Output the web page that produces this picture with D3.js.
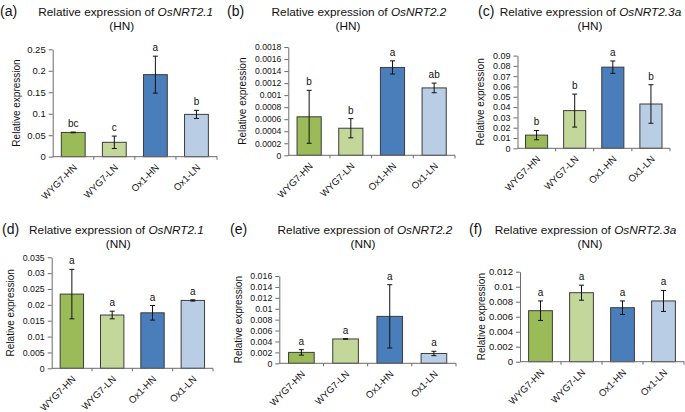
<!DOCTYPE html>
<html>
<head>
<meta charset="utf-8">
<script src="https://cdn.jsdelivr.net/npm/d3@7"></script>
<style>
  html, body { margin: 0; padding: 0; background: #fff; }
  svg { display: block; font-family: "Liberation Sans", Arial, Helvetica, sans-serif; }
</style>
</head>
<body>
<svg id="chart" width="685" height="412"></svg>
<script>
// ---------------- DATA ----------------
const categories = ["WYG7-HN", "WYG7-LN", "Ox1-HN", "Ox1-LN"];
const panelLetters = ["(a)", "(b)", "(c)", "(d)", "(e)", "(f)"];
const genes = ["OsNRT2.1", "OsNRT2.2", "OsNRT2.3a", "OsNRT2.1", "OsNRT2.2", "OsNRT2.3a"];
const conditions = ["(HN)", "(HN)", "(HN)", "(NN)", "(NN)", "(NN)"];
const yAxisTitle = "Relative expression";

const valuesA = [0.0565, 0.0335, 0.191, 0.0985];
const errorsA = [0.0008, 0.0145, 0.043, 0.0095];
const lettersA = ["bc", "c", "a", "b"];
const ticksA = [0, 0.05, 0.1, 0.15, 0.2, 0.25];

const valuesB = [0.00064, 0.00045, 0.00146, 0.00112];
const errorsB = [0.00044, 0.00016, 0.00011, 0.00008];
const lettersB = ["b", "b", "a", "ab"];
const ticksB = [0, 0.0002, 0.0004, 0.0006, 0.0008, 0.001, 0.0012, 0.0014, 0.0016, 0.0018];

const valuesC = [0.0128, 0.0366, 0.0788, 0.043];
const errorsC = [0.0045, 0.016, 0.006, 0.0187];
const lettersC = ["b", "b", "a", "b"];
const ticksC = [0, 0.01, 0.02, 0.03, 0.04, 0.05, 0.06, 0.07, 0.08, 0.09];

const valuesD = [0.0234, 0.0168, 0.0175, 0.0214];
const errorsD = [0.0078, 0.0012, 0.0023, 0.0002];
const lettersD = ["a", "a", "a", "a"];
const ticksD = [0, 0.005, 0.01, 0.015, 0.02, 0.025, 0.03, 0.035];

const valuesE = [0.0020, 0.00446, 0.0086, 0.0018];
const errorsE = [0.0005, 0.00003, 0.0058, 0.0004];
const lettersE = ["a", "a", "a", "a"];
const ticksE = [0, 0.002, 0.004, 0.006, 0.008, 0.01, 0.012, 0.014, 0.016];

const valuesF = [0.0068, 0.0092, 0.0072, 0.0081];
const errorsF = [0.0013, 0.0010, 0.0009, 0.0014];
const lettersF = ["a", "a", "a", "a"];
const ticksF = [0, 0.002, 0.004, 0.006, 0.008, 0.01, 0.012];

const barColors = ["#9bbb59", "#c4d79b", "#4a7ebb", "#b9cde5"];

// ---------------- LAYOUT (pixels) ----------------
const layouts = [
  { x0: 52.7, x1: 217, yTop: 49.3, yBot: 156.7, ylabX: 16,  tickFs: 9.5, letX: 0,   titleCx: 125.7, subCx: 121.7, b1: 16,  b2: 29.5 },
  { x0: 288.3, x1: 455, yTop: 47,  yBot: 155.3, ylabX: 242, tickFs: 8.6, letX: 227, titleCx: 359,   subCx: 348,   b1: 16,  b2: 29.5 },
  { x0: 517.5, x1: 670, yTop: 55.6, yBot: 148.3, ylabX: 480, tickFs: 9,  letX: 478, titleCx: 590.5, subCx: 590,   b1: 16,  b2: 29.5 },
  { x0: 51.7, x1: 213, yTop: 257.3, yBot: 368.3, ylabX: 10,  tickFs: 8.8, letX: 2,   titleCx: 116.5, subCx: 118.3, b1: 233.5, b2: 247.5 },
  { x0: 279.3, x1: 456, yTop: 276, yBot: 363.3, ylabX: 238.5, tickFs: 8.8, letX: 230, titleCx: 365, subCx: 363, b1: 233.5, b2: 247.5 },
  { x0: 520, x1: 684, yTop: 271.7, yBot: 361.7, ylabX: 481, tickFs: 9.6, letX: 469, titleCx: 585.5, subCx: 590, b1: 233.5, b2: 247.5 }
];

const panels = [
  { values: valuesA, errors: errorsA, letters: lettersA, ticks: ticksA },
  { values: valuesB, errors: errorsB, letters: lettersB, ticks: ticksB },
  { values: valuesC, errors: errorsC, letters: lettersC, ticks: ticksC },
  { values: valuesD, errors: errorsD, letters: lettersD, ticks: ticksD },
  { values: valuesE, errors: errorsE, letters: lettersE, ticks: ticksE },
  { values: valuesF, errors: errorsF, letters: lettersF, ticks: ticksF }
];

const fmt = v => String(parseFloat(v.toFixed(6)));
const svg = d3.select("#chart");
const axisColor = "#6b6b6b";

panels.forEach((p, i) => {
  const L = layouts[i];
  const g = svg.append("g");
  const yMax = p.ticks[p.ticks.length - 1];
  const y = d3.scaleLinear().domain([0, yMax]).range([L.yBot, L.yTop]);
  const x = d3.scaleBand().domain(categories).range([L.x0, L.x1])
    .paddingInner(0.42).paddingOuter(0.21);
  const bw = x.bandwidth();
  const step = x.step();

  // titles
  g.append("text").attr("x", L.letX).attr("y", L.b1).attr("font-size", 14).attr("fill", "#111")
    .text(panelLetters[i]);
  const t = g.append("text").attr("x", L.titleCx).attr("y", L.b1).attr("text-anchor", "middle")
    .attr("font-size", 11.8).attr("fill", "#111");
  t.append("tspan").text("Relative expression of ");
  t.append("tspan").attr("font-style", "italic").text(genes[i]);
  g.append("text").attr("x", L.subCx).attr("y", L.b2).attr("text-anchor", "middle")
    .attr("font-size", 11.8).attr("fill", "#111").text(conditions[i]);

  // y axis
  const ya = g.append("g").attr("transform", `translate(${L.x0},0)`)
    .call(d3.axisLeft(y).tickValues(p.ticks).tickFormat(fmt).tickSize(4).tickSizeOuter(0).tickPadding(3));
  ya.select(".domain").attr("stroke", axisColor);
  ya.selectAll(".tick line").attr("stroke", axisColor);
  ya.selectAll(".tick text").attr("font-size", L.tickFs).attr("fill", "#111")
    .attr("font-family", "Liberation Sans, Arial, sans-serif");

  // y axis title
  g.append("text")
    .attr("transform", `translate(${L.ylabX},${(L.yTop + L.yBot) / 2}) rotate(-90)`)
    .attr("text-anchor", "middle").attr("dy", "0.35em")
    .attr("font-size", 10).attr("fill", "#111").text(yAxisTitle);

  // bars
  g.selectAll("rect.bar").data(categories).enter().append("rect")
    .attr("class", "bar")
    .attr("x", c => x(c)).attr("width", bw)
    .attr("y", (c, k) => y(p.values[k]))
    .attr("height", (c, k) => y(0) - y(p.values[k]))
    .attr("fill", (c, k) => barColors[k])
    .attr("stroke", "#3c3c3c").attr("stroke-width", 1);

  // x axis line and boundary ticks
  g.append("line").attr("x1", L.x0).attr("x2", L.x1).attr("y1", L.yBot).attr("y2", L.yBot)
    .attr("stroke", axisColor);
  g.selectAll("line.xt").data(categories).enter().append("line")
    .attr("class", "xt")
    .attr("x1", c => x(c) + bw / 2 + step / 2).attr("x2", c => x(c) + bw / 2 + step / 2)
    .attr("y1", L.yBot).attr("y2", L.yBot + 3).attr("stroke", axisColor);

  // x labels
  g.selectAll("text.xl").data(categories).enter().append("text")
    .attr("class", "xl")
    .attr("transform", c => `translate(${x(c) + bw / 2 + 2},${L.yBot + 9}) rotate(-45)`)
    .attr("text-anchor", "end").attr("dy", "0.35em")
    .attr("font-size", 9.6).attr("fill", "#111").text(c => c);

  // error bars
  const eb = g.selectAll("g.eb").data(categories).enter().append("g").attr("class", "eb");
  eb.append("line")
    .attr("x1", c => x(c) + bw / 2).attr("x2", c => x(c) + bw / 2)
    .attr("y1", (c, k) => y(p.values[k] - p.errors[k]))
    .attr("y2", (c, k) => y(p.values[k] + p.errors[k]))
    .attr("stroke", "#111").attr("stroke-width", 1);
  [-1, 1].forEach(s => {
    eb.append("line")
      .attr("x1", c => x(c) + bw / 2 - 2.5).attr("x2", c => x(c) + bw / 2 + 2.5)
      .attr("y1", (c, k) => y(p.values[k] + s * p.errors[k]))
      .attr("y2", (c, k) => y(p.values[k] + s * p.errors[k]))
      .attr("stroke", "#111").attr("stroke-width", 1);
  });

  // significance letters
  g.selectAll("text.sig").data(categories).enter().append("text")
    .attr("class", "sig")
    .attr("x", c => x(c) + bw / 2)
    .attr("y", (c, k) => y(p.values[k] + p.errors[k]) - 5)
    .attr("text-anchor", "middle").attr("font-size", 10).attr("fill", "#111")
    .text((c, k) => p.letters[k]);
});
</script>
</body>
</html>
